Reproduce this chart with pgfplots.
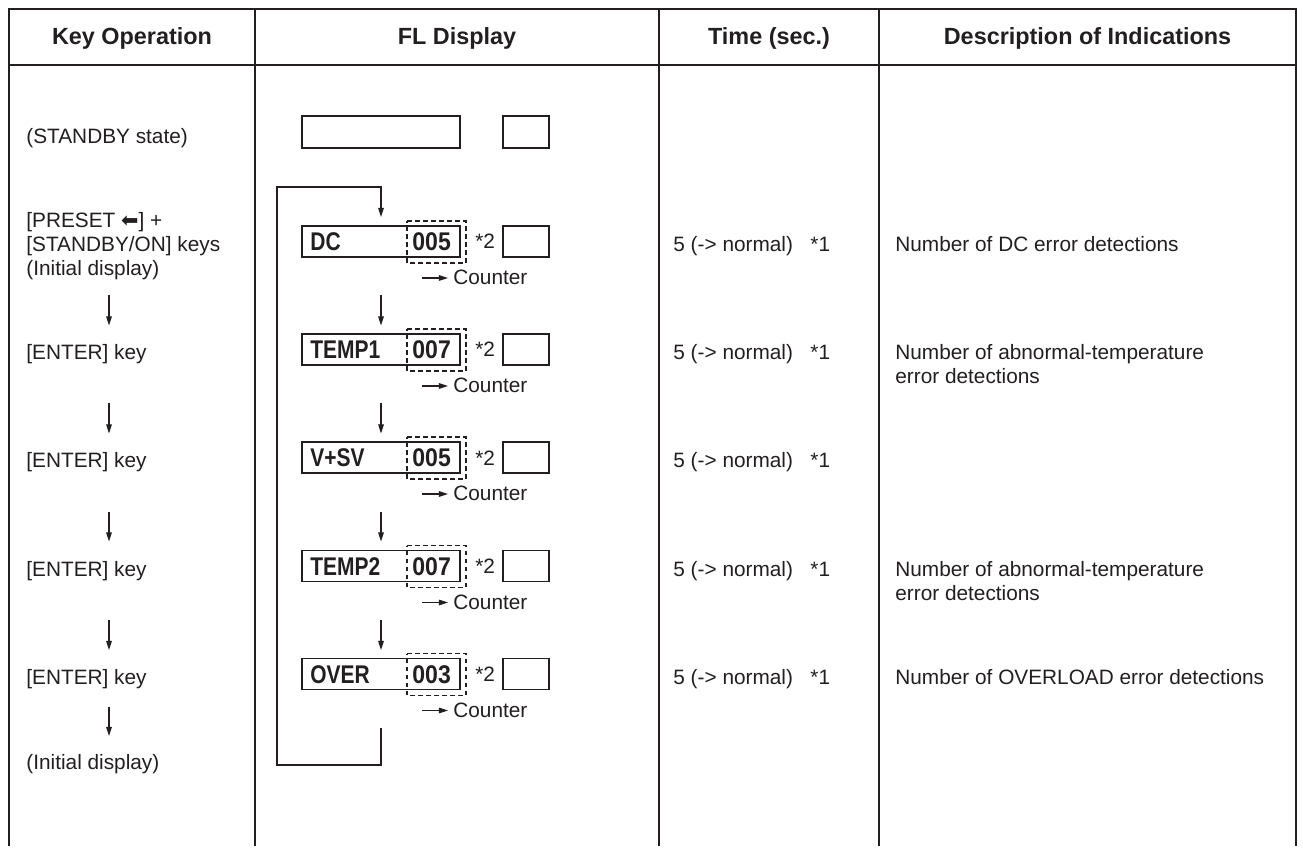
\documentclass[border=0pt]{standalone}
\usepackage{pgfplots}
\pgfplotsset{compat=1.18}
\usepackage{fontspec}
\setmainfont{Liberation Sans}
\newfontfamily\dejavu{DejaVu Sans}
\newfontfamily\flfont{Liberation Sans Bold}
\usepackage{graphicx}
\usetikzlibrary{arrows.meta}
\definecolor{ink}{HTML}{231F20}
\newcommand{\bodyf}{\fontsize{10.4bp}{12.5bp}\selectfont}
\newcommand{\headf}{\fontsize{11.7bp}{14bp}\selectfont\bfseries}
\newcommand{\fl}[1]{\scalebox{0.82}[1]{\fontsize{12.8bp}{14bp}\flfont #1}}
\newcommand{\fn}[1]{\scalebox{0.9}[1]{\fontsize{12.8bp}{14bp}\flfont #1}}
\tikzset{
  frame/.style={ink,line width=1.2bp,mark=none},
  div/.style={ink,line width=0.8bp,mark=none},
  box/.style={ink,line width=0.7bp,mark=none,line cap=rect},
  dsh/.style={ink,line width=0.55bp,mark=none,dash pattern=on 2.4bp off 1.6bp},
  arr/.style={ink,line width=0.6bp,mark=none,-{Triangle[length=4.6bp,width=2.8bp]}},
  txt/.style={anchor=base west,inner sep=0pt,text=ink,font=\bodyf},
  hd/.style={anchor=base,inner sep=0pt,text=ink,font=\headf},
  fltx/.style={anchor=base west,inner sep=0pt,text=ink}}
\begin{document}
\begin{tikzpicture}
\begin{axis}[x=0.5bp,y=0.5bp,xmin=0,xmax=1303,ymin=-846,ymax=0,hide axis,clip=false,scale only axis]
% background / bounding box
\addplot[fill=white,draw=none] coordinates {(0,0)(1303,0)(1303,-846)(0,-846)(0,0)};
% table frame
\addplot[frame] coordinates {(9,-846)(9,-9)(1296,-9)(1296,-846)};
\addplot[frame] coordinates {(9,-65)(1296,-65)};
\addplot[div] coordinates {(255,-9)(255,-846)};
\addplot[div] coordinates {(659,-9)(659,-846)};
\addplot[div] coordinates {(879,-9)(879,-846)};
% headers
\node[hd] at (axis cs:132,-45) {Key Operation};
\node[hd] at (axis cs:457,-45) {FL Display};
\node[hd] at (axis cs:769,-45) {Time (sec.)};
\node[hd] at (axis cs:1087.5,-45) {Description of Indications};
% standby row
\node[txt] at (axis cs:26,-143.5) {(STANDBY state)};
\addplot[box] coordinates {(302,-116)(460,-116)(460,-148)(302,-148)(302,-116)};
\addplot[box] coordinates {(503,-116)(549,-116)(549,-148)(503,-148)(503,-116)};
% loop
\addplot[arr] coordinates {(381,-728)(381,-765)(277,-765)(277,-187)(381,-187)(381,-217)};
% ---- row DC (R=241.5)
\node[txt] at (axis cs:26,-228) {[PRESET {\dejavu ⬅}] +};
\node[txt] at (axis cs:26,-252) {[STANDBY/ON] keys};
\node[txt] at (axis cs:26,-276) {(Initial display)};
\addplot[box] coordinates {(302,-226)(460,-226)(460,-257)(302,-257)(302,-226)};
\addplot[dsh] coordinates {(407,-221)(466,-221)(466,-263)(407,-263)(407,-221)};
\addplot[box] coordinates {(503,-226)(549,-226)(549,-257)(503,-257)(503,-226)};
\node[fltx] at (axis cs:310,-250.5) {\fl{DC}};
\node[fltx] at (axis cs:412,-250.5) {\fn{005}};
\node[txt] at (axis cs:475,-249) {*2};
\addplot[arr] coordinates {(422,-278)(448,-278)};
\node[txt] at (axis cs:453,-285) {Counter};
\node[txt] at (axis cs:673,-251.5) {5 (-> normal)};
\node[txt] at (axis cs:810,-251.5) {*1};
\node[txt] at (axis cs:895,-251.5) {Number of DC error detections};
\addplot[arr] coordinates {(381,-295.5)(381,-325.5)};
\addplot[arr] coordinates {(109,-295.5)(109,-325.5)};
% ---- row TEMP1 (R=349.5)
\node[txt] at (axis cs:26,-359.5) {[ENTER] key};
\addplot[box] coordinates {(302,-334)(460,-334)(460,-365)(302,-365)(302,-334)};
\addplot[dsh] coordinates {(407,-329)(466,-329)(466,-371)(407,-371)(407,-329)};
\addplot[box] coordinates {(503,-334)(549,-334)(549,-365)(503,-365)(503,-334)};
\node[fltx] at (axis cs:310,-358.5) {\fl{TEMP1}};
\node[fltx] at (axis cs:412,-358.5) {\fn{007}};
\node[txt] at (axis cs:475,-357) {*2};
\addplot[arr] coordinates {(422,-386)(448,-386)};
\node[txt] at (axis cs:453,-393) {Counter};
\node[txt] at (axis cs:673,-359.5) {5 (-> normal)};
\node[txt] at (axis cs:810,-359.5) {*1};
\node[txt] at (axis cs:895,-359.5) {Number of abnormal-temperature};
\node[txt] at (axis cs:895,-383.5) {error detections};
\addplot[arr] coordinates {(381,-403.5)(381,-433.5)};
\addplot[arr] coordinates {(109,-403.5)(109,-433.5)};
% ---- row V+SV (R=457.5)
\node[txt] at (axis cs:26,-467.5) {[ENTER] key};
\addplot[box] coordinates {(302,-442)(460,-442)(460,-473)(302,-473)(302,-442)};
\addplot[dsh] coordinates {(407,-437)(466,-437)(466,-479)(407,-479)(407,-437)};
\addplot[box] coordinates {(503,-442)(549,-442)(549,-473)(503,-473)(503,-442)};
\node[fltx] at (axis cs:310,-466.5) {\fl{V+SV}};
\node[fltx] at (axis cs:412,-466.5) {\fn{005}};
\node[txt] at (axis cs:475,-465) {*2};
\addplot[arr] coordinates {(422,-494)(448,-494)};
\node[txt] at (axis cs:453,-501) {Counter};
\node[txt] at (axis cs:673,-467.5) {5 (-> normal)};
\node[txt] at (axis cs:810,-467.5) {*1};
\addplot[arr] coordinates {(381,-511.5)(381,-541.5)};
\addplot[arr] coordinates {(109,-511.5)(109,-541.5)};
% ---- row TEMP2 (R=566)
\node[txt] at (axis cs:26,-576) {[ENTER] key};
\addplot[box] coordinates {(302,-550.5)(460,-550.5)(460,-581.5)(302,-581.5)(302,-550.5)};
\addplot[dsh] coordinates {(407,-545.5)(466,-545.5)(466,-587.5)(407,-587.5)(407,-545.5)};
\addplot[box] coordinates {(503,-550.5)(549,-550.5)(549,-581.5)(503,-581.5)(503,-550.5)};
\node[fltx] at (axis cs:310,-575) {\fl{TEMP2}};
\node[fltx] at (axis cs:412,-575) {\fn{007}};
\node[txt] at (axis cs:475,-573.5) {*2};
\addplot[arr] coordinates {(422,-602.5)(448,-602.5)};
\node[txt] at (axis cs:453,-609.5) {Counter};
\node[txt] at (axis cs:673,-576) {5 (-> normal)};
\node[txt] at (axis cs:810,-576) {*1};
\node[txt] at (axis cs:895,-576) {Number of abnormal-temperature};
\node[txt] at (axis cs:895,-600) {error detections};
\addplot[arr] coordinates {(381,-620)(381,-650)};
\addplot[arr] coordinates {(109,-620)(109,-650)};
% ---- row OVER (R=674)
\node[txt] at (axis cs:26,-684) {[ENTER] key};
\addplot[box] coordinates {(302,-658.5)(460,-658.5)(460,-689.5)(302,-689.5)(302,-658.5)};
\addplot[dsh] coordinates {(407,-653.5)(466,-653.5)(466,-695.5)(407,-695.5)(407,-653.5)};
\addplot[box] coordinates {(503,-658.5)(549,-658.5)(549,-689.5)(503,-689.5)(503,-658.5)};
\node[fltx] at (axis cs:310,-683) {\fl{OVER}};
\node[fltx] at (axis cs:412,-683) {\fn{003}};
\node[txt] at (axis cs:475,-681.5) {*2};
\addplot[arr] coordinates {(422,-710.5)(448,-710.5)};
\node[txt] at (axis cs:453,-717.5) {Counter};
\node[txt] at (axis cs:673,-684) {5 (-> normal)};
\node[txt] at (axis cs:810,-684) {*1};
\node[txt] at (axis cs:895,-684) {Number of OVERLOAD error detections};
\addplot[arr] coordinates {(109,-707)(109,-736)};
\node[txt] at (axis cs:26,-769.5) {(Initial display)};
\end{axis}
\end{tikzpicture}
\end{document}
